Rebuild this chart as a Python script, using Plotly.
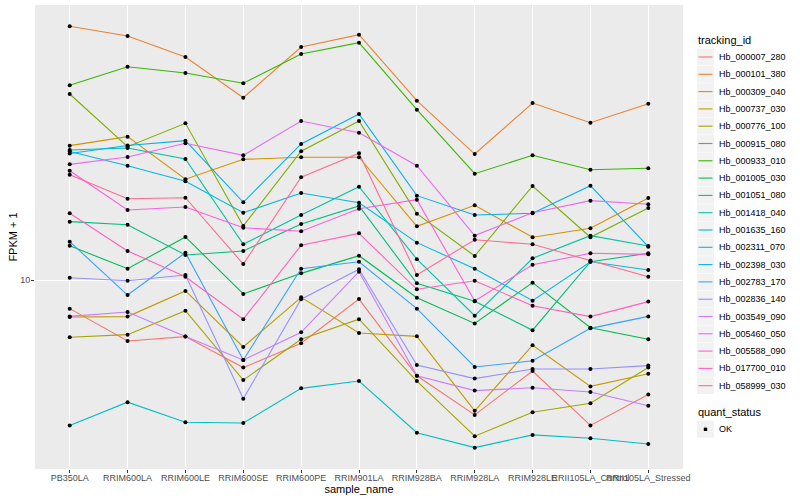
import plotly.graph_objects as go

# ---------------- data (FPKM + 1) ----------------
samples = ["PB350LA", "RRIM600LA", "RRIM600LE", "RRIM600SE", "RRIM600PE",
           "RRIM901LA", "RRIM928BA", "RRIM928LA", "RRIM928LE",
           "RRII105LA_Control", "RRII105LA_Stressed"]

tracking_ids = ["Hb_000007_280", "Hb_000101_380", "Hb_000309_040", "Hb_000737_030",
                "Hb_000776_100", "Hb_000915_080", "Hb_000933_010", "Hb_001005_030",
                "Hb_001051_080", "Hb_001418_040", "Hb_001635_160", "Hb_002311_070",
                "Hb_002398_030", "Hb_002783_170", "Hb_002836_140", "Hb_003549_090",
                "Hb_005460_050", "Hb_005588_090", "Hb_017700_010", "Hb_058999_030"]

Hb_000007_280 = [8.48, 7.04, 7.22, 6.04, 6.95, 8.96, 5.76, 4.60, 5.92, 4.33, 5.17]
Hb_000101_380 = [43.08, 40.74, 36.10, 28.56, 38.24, 41.05, 28.07, 20.65, 27.70, 24.73, 27.59]
Hb_000309_040 = [21.67, 22.82, 17.86, 20.03, 20.27, 20.27, 13.62, 15.37, 12.79, 13.47, 16.03]
Hb_000737_030 = [8.08, 8.10, 9.39, 6.80, 9.05, 7.37, 7.23, 4.71, 6.87, 5.42, 5.83]
Hb_000776_100 = [7.19, 7.30, 8.38, 5.62, 7.11, 7.98, 5.59, 4.07, 4.67, 4.92, 6.04]
Hb_000915_080 = [29.17, 21.54, 24.64, 13.65, 20.98, 24.97, 14.65, 11.48, 17.18, 12.79, 15.14]
Hb_000933_010 = [30.67, 34.14, 32.92, 31.03, 36.73, 39.20, 26.65, 18.44, 20.50, 18.87, 19.02]
Hb_001005_030 = [12.18, 10.67, 12.81, 9.23, 10.39, 11.50, 9.03, 7.79, 9.85, 7.60, 7.11]
Hb_001051_080 = [13.99, 13.75, 11.55, 11.82, 13.80, 15.31, 9.81, 8.85, 7.49, 11.11, 11.66]
Hb_001418_040 = [21.13, 21.38, 20.07, 12.28, 14.54, 17.11, 11.27, 8.14, 11.33, 12.91, 12.16]
Hb_001635_160 = [4.33, 4.95, 4.41, 4.39, 5.36, 5.59, 4.15, 3.81, 4.10, 4.02, 3.89]
Hb_002311_070 = [20.95, 19.31, 17.65, 14.73, 16.50, 15.60, 12.40, 10.67, 8.88, 11.11, 10.59]
Hb_002398_030 = [20.71, 21.69, 22.30, 15.64, 21.88, 26.00, 16.25, 14.54, 14.68, 17.21, 12.11]
Hb_002783_170 = [12.47, 9.17, 11.70, 6.31, 10.67, 11.11, 8.48, 6.06, 6.28, 7.57, 8.11]
Hb_002836_140 = [10.13, 9.96, 10.29, 5.05, 8.95, 10.64, 6.13, 5.67, 5.99, 5.99, 6.11]
Hb_003549_090 = [8.11, 8.32, 7.22, 6.31, 7.40, 10.49, 5.76, 5.29, 5.38, 5.25, 4.85]
Hb_005460_050 = [19.46, 20.30, 21.97, 20.50, 24.97, 23.35, 19.31, 12.91, 14.73, 15.79, 15.46]
Hb_005588_090 = [18.76, 14.96, 15.22, 13.51, 13.24, 15.07, 15.88, 8.86, 10.92, 11.66, 11.59]
Hb_017700_010 = [14.68, 11.82, 10.19, 7.98, 12.21, 13.08, 9.48, 9.96, 8.62, 8.10, 8.83]
Hb_058999_030 = [18.33, 15.97, 16.06, 10.96, 18.06, 20.74, 10.29, 12.61, 12.28, 11.18, 10.19]

series = [Hb_000007_280, Hb_000101_380, Hb_000309_040, Hb_000737_030, Hb_000776_100,
          Hb_000915_080, Hb_000933_010, Hb_001005_030, Hb_001051_080, Hb_001418_040,
          Hb_001635_160, Hb_002311_070, Hb_002398_030, Hb_002783_170, Hb_002836_140,
          Hb_003549_090, Hb_005460_050, Hb_005588_090, Hb_017700_010, Hb_058999_030]

quant_status = ["OK"]
y_ticks = [10]

# ---------------- style ----------------
colors = ["#F8766D", "#EA8331", "#D89000", "#C09B00", "#A3A500", "#7CAE00", "#39B600",
          "#00BB4E", "#00BF7D", "#00C1A3", "#00BFC4", "#00BAE0", "#00B0F6", "#35A2FF",
          "#9590FF", "#C77CFF", "#E76BF3", "#FA62DB", "#FF62BC", "#FF6C91"]

FONT = "Liberation Sans, Arial, Helvetica, sans-serif"
W, H = 800, 500
L_M, R_M, T_M, B_M = 35, 117, 5, 31
PW, PH = W - L_M - R_M, H - T_M - B_M


def pxx(x):
    return (x - L_M) / PW


def pyy(y):
    return (H - B_M - y) / PH


fig = go.Figure()

for name, vals, col in zip(tracking_ids, series, colors):
    fig.add_trace(go.Scatter(x=samples, y=vals, mode="lines", name=name,
                             line=dict(color=col, width=1.1), showlegend=False,
                             hoverinfo="x+y+name"))

all_x = [s for _ in series for s in samples]
all_y = [v for vals in series for v in vals]
fig.add_trace(go.Scatter(x=all_x, y=all_y, mode="markers", name=quant_status[0],
                         marker=dict(color="black", size=4, symbol="circle",
                                     line=dict(width=0)),
                         showlegend=False))

# ---------------- manual ggplot-like legend ----------------
shapes = []
annotations = []
annotations.append(dict(x=pxx(696), y=pyy(40.5), xref="paper", yref="paper",
                        text="tracking_id", showarrow=False, xanchor="left",
                        yanchor="middle", font=dict(size=11, color="black", family=FONT)))
for i, (name, col) in enumerate(zip(tracking_ids, colors)):
    cy = 57 + 17.3 * i
    shapes.append(dict(type="rect", xref="paper", yref="paper",
                       x0=pxx(697), x1=pxx(714), y0=pyy(cy - 8.4), y1=pyy(cy + 8.4),
                       fillcolor="#F2F2F2", line=dict(width=0), layer="above"))
    shapes.append(dict(type="line", xref="paper", yref="paper",
                       x0=pxx(698.5), x1=pxx(712.5), y0=pyy(cy), y1=pyy(cy),
                       line=dict(color=col, width=1.1), layer="above"))
    annotations.append(dict(x=pxx(716.5), y=pyy(cy), xref="paper", yref="paper",
                            text=name, showarrow=False, xanchor="left", yanchor="middle",
                            font=dict(size=9, color="black", family=FONT)))

annotations.append(dict(x=pxx(696), y=pyy(412), xref="paper", yref="paper",
                        text="quant_status", showarrow=False, xanchor="left",
                        yanchor="middle", font=dict(size=11, color="black", family=FONT)))
ok_y = 429.3
shapes.append(dict(type="rect", xref="paper", yref="paper",
                   x0=pxx(697), x1=pxx(714), y0=pyy(ok_y - 8.4), y1=pyy(ok_y + 8.4),
                   fillcolor="#F2F2F2", line=dict(width=0), layer="above"))
shapes.append(dict(type="rect", xref="paper", yref="paper",
                   x0=pxx(703.8), x1=pxx(707.2), y0=pyy(ok_y - 1.7), y1=pyy(ok_y + 1.7),
                   fillcolor="black", line=dict(width=0), layer="above"))
annotations.append(dict(x=pxx(716.5), y=pyy(ok_y), xref="paper", yref="paper",
                        text=quant_status[0], showarrow=False, xanchor="left",
                        yanchor="middle", font=dict(size=9, color="black", family=FONT)))

fig.update_layout(
    width=W, height=H,
    margin=dict(l=L_M, r=R_M, t=T_M, b=B_M, autoexpand=False),
    paper_bgcolor="white", plot_bgcolor="#EBEBEB",
    font=dict(family=FONT, size=11, color="black"),
    showlegend=False,
    shapes=shapes, annotations=annotations,
    xaxis=dict(type="category", categoryorder="array", categoryarray=samples,
               range=[-0.6, 10.6], tickangle=0, showgrid=True, gridcolor="white",
               gridwidth=1.1, zeroline=False, showline=False,
               ticks="outside", ticklen=3, tickwidth=1, tickcolor="#333333",
               ticklabelstandoff=-3,
               tickfont=dict(size=9, color="#4D4D4D", family=FONT),
               title=dict(text="sample_name", standoff=0,
                          font=dict(size=11, color="black", family=FONT)),
               automargin=False, fixedrange=True),
    yaxis=dict(type="log", range=[0.5275, 1.6875], tickvals=y_ticks,
               ticktext=[str(t) for t in y_ticks], showgrid=True, gridcolor="white",
               gridwidth=1.1, zeroline=False, showline=False,
               ticks="outside", ticklen=3, tickwidth=1, tickcolor="#333333",
               ticklabelstandoff=-1,
               tickfont=dict(size=9, color="#4D4D4D", family=FONT),
               title=dict(text="FPKM + 1", standoff=0,
                          font=dict(size=11, color="black", family=FONT)),
               automargin=False, fixedrange=True),
)

fig.write_html("out.html", config={"displayModeBar": False},
               post_script="document.body.style.margin='0';document.body.style.overflow='hidden';")
